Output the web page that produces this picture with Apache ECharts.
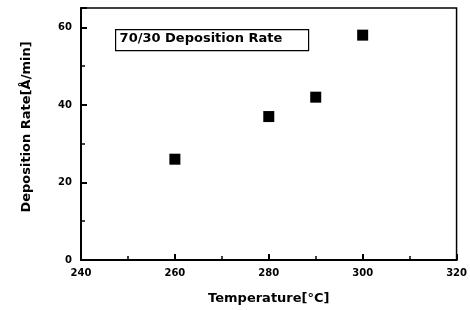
<!DOCTYPE html>
<html lang="en">
<head>
  <meta charset="UTF-8">
  <script type="text/javascript" src="https://cdn.jsdelivr.net/npm/echarts@6/dist/echarts.min.js"></script>
  <title>Deposition Rate</title>
  <style type="text/css">
    * { margin: 0; padding: 0; }
    html, body { width: 100%; height: 100%; background-color: #fff; }
    #chart { width: 470px; height: 310px; }
  </style>
</head>
<body>
<div id="chart"></div>
<script type="text/javascript">
  // data
  var temperatures = [260, 280, 290, 300]
  var rates = [26, 37, 42, 58]
  var boxLabel = '70/30 Deposition Rate'

  var points = temperatures.map(function (t, i) { return [t, rates[i]] })

  var font = '"DejaVu Sans", Arial, sans-serif'

  var myChart = echarts.init(document.getElementById('chart'))
  var option = {
    animation: false,
    grid: {
      left: 81, right: 10, top: 8, bottom: 47,
      show: true,
      borderColor: '#000',
      borderWidth: 1.5
    },
    graphic: [{
      type: 'group',
      left: 115,
      top: 29,
      children: [{
        type: 'rect',
        shape: { x: 0, y: 0, width: 193, height: 21 },
        style: { fill: '#fff', stroke: '#000', lineWidth: 1.2 }
      }, {
        type: 'text',
        x: 4,
        y: 3,
        style: { text: boxLabel, font: 'bold 13px ' + font, fill: '#000' }
      }]
    }],
    xAxis: {
      type: 'value',
      min: 240,
      max: 320,
      interval: 20,
      name: 'Temperature[°C]',
      nameLocation: 'middle',
      nameGap: 32,
      nameTextStyle: { fontFamily: font, fontWeight: 'bold', fontSize: 13, color: '#000' },
      axisLine: { lineStyle: { color: '#000', width: 2 } },
      axisTick: { inside: true, length: 6, lineStyle: { color: '#000', width: 2 } },
      minorTick: { show: true, splitNumber: 2, length: 4, lineStyle: { color: '#000', width: 1.5 } },
      axisLabel: { fontFamily: font, fontWeight: 'bold', fontSize: 10, color: '#000', margin: 8 },
      splitLine: { show: false }
    },
    yAxis: {
      type: 'value',
      min: 0,
      max: 65,
      interval: 20,
      name: 'Deposition Rate[Å/min]',
      nameLocation: 'middle',
      nameGap: 48,
      nameTextStyle: {
        fontFamily: font, fontWeight: 'bold', fontSize: 13, color: '#000',
        padding: [0, 0, 0, 14]
      },
      axisLine: { lineStyle: { color: '#000', width: 2 } },
      axisTick: { inside: true, length: 6, lineStyle: { color: '#000', width: 2 } },
      minorTick: { show: true, splitNumber: 2, length: 4, lineStyle: { color: '#000', width: 1.5 } },
      axisLabel: {
        fontFamily: font, fontWeight: 'bold', fontSize: 10, color: '#000', margin: 9,
        showMaxLabel: false
      },
      splitLine: { show: false }
    },
    series: [{
      type: 'scatter',
      symbol: 'rect',
      symbolSize: 11,
      itemStyle: { color: '#000', opacity: 1 },
      data: points
    }]
  }
  myChart.setOption(option)
</script>
</body>
</html>
